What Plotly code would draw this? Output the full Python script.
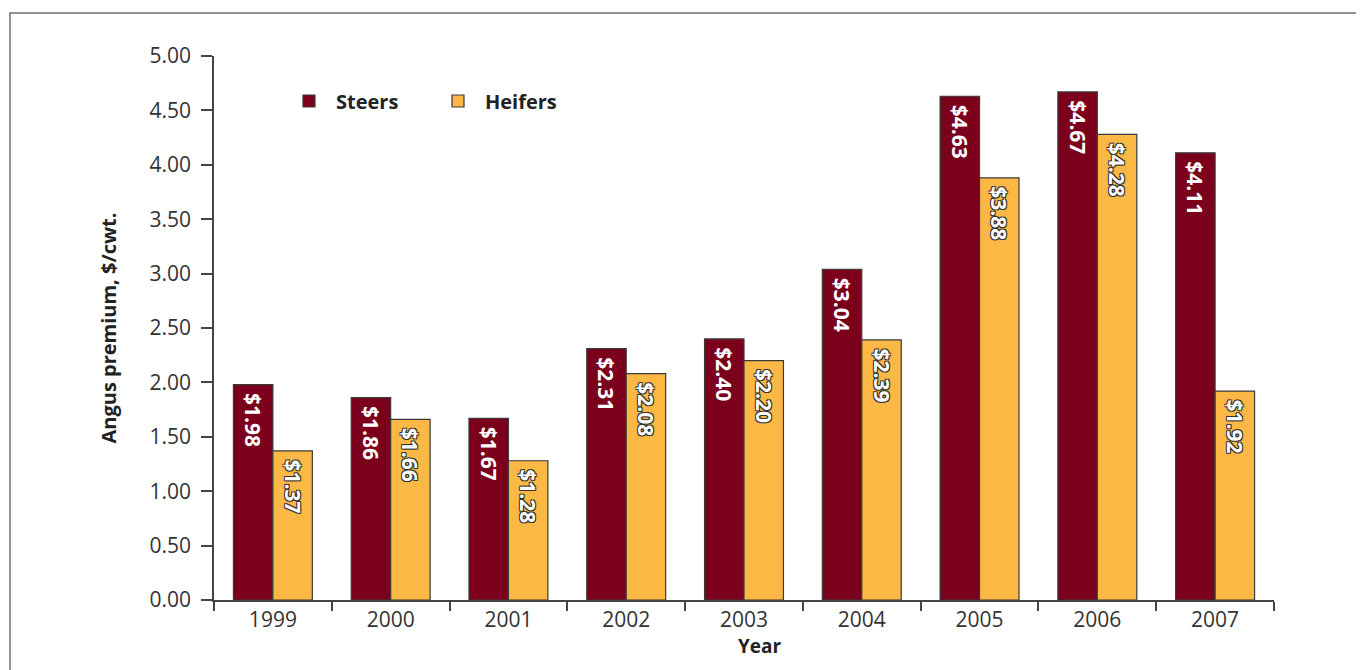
import plotly.graph_objects as go

years = ["1999", "2000", "2001", "2002", "2003", "2004", "2005", "2006", "2007"]
steers = [1.98, 1.86, 1.67, 2.31, 2.40, 3.04, 4.63, 4.67, 4.11]
heifers = [1.37, 1.66, 1.28, 2.08, 2.20, 2.39, 3.88, 4.28, 1.92]
y_ticks = [0, 0.5, 1, 1.5, 2, 2.5, 3, 3.5, 4, 4.5, 5]

STEER_C = "#7b001c"
HEIFER_C = "#fbb844"
EDGE = "#3a3a3a"
FONT = "Open Sans"

outline = "1px 1px 0 #333, -1px -1px 0 #333, 1px -1px 0 #333, -1px 1px 0 #333"

def lab(v):
    return "\u00a0$" + f"{v:.2f}"

fig = go.Figure()
fig.add_trace(go.Bar(
    name="Steers", x=years, y=steers,
    marker=dict(color=STEER_C, line=dict(color=EDGE, width=1.2)),
    text=[lab(v) for v in steers], textposition="inside",
    insidetextanchor="end", textangle=90, constraintext="none",
    insidetextfont=dict(family=FONT, size=21, color="white", weight="bold"),
    hoverinfo="skip",
))
fig.add_trace(go.Bar(
    name="Heifers", x=years, y=heifers,
    marker=dict(color=HEIFER_C, line=dict(color=EDGE, width=1.2)),
    text=[lab(v) for v in heifers], textposition="inside",
    insidetextanchor="end", textangle=90, constraintext="none",
    insidetextfont=dict(family=FONT, size=21, color="white", weight="bold", shadow=outline),
    hoverinfo="skip",
))

# page body margin offset (8px) compensation
OFF = 8
W, H = 1364, 670
L, T = 214 - OFF, 56 - OFF
pw, ph = 1060, 544
R = W - L - pw
B = H - T - ph

def px_x(p):
    return (p - OFF - L) / pw

def px_y(p):
    return (T + ph - (p - OFF)) / ph

fig.update_layout(
    width=W, height=H,
    margin=dict(l=L, r=R, t=T, b=B, autoexpand=False),
    paper_bgcolor="white", plot_bgcolor="white",
    barmode="group", bargap=0.33, bargroupgap=0,
    font=dict(family=FONT, size=20, color="#333"),
    showlegend=True,
    legend=dict(orientation="h", x=px_x(282), xanchor="left", y=px_y(101), yanchor="middle",
                font=dict(family=FONT, size=20, color="#222", weight="bold"),
                itemwidth=44,
                bgcolor="rgba(0,0,0,0)", entrywidth=90, entrywidthmode="pixels"),
    xaxis=dict(type="category", categoryarray=years, showgrid=False, zeroline=False,
               showline=True, linecolor="#444", linewidth=1.5,
               ticks="outside", tickson="boundaries", ticklen=9, tickwidth=1.5, tickcolor="#444",
               tickfont=dict(family=FONT, size=21, color="#333"), automargin=False),
    yaxis=dict(range=[0, 5], tickvals=y_ticks, ticktext=[f"{v:.2f}" for v in y_ticks],
               showgrid=False, zeroline=False, showline=True, linecolor="#444", linewidth=1.5,
               ticks="outside", ticklen=11, tickwidth=1.5, tickcolor="#444",
               ticklabelstandoff=6,
               tickfont=dict(family=FONT, size=21, color="#333"), automargin=False,
               title=dict(text="Angus premium, $/cwt.", standoff=28,
                          font=dict(family=FONT, size=20, color="#222", weight="bold"))),
    xaxis2=dict(overlaying="x", anchor="y", range=[-0.5, 8.5],
                tickvals=[i - 0.5 for i in range(len(years) + 1)],
                showticklabels=False, ticks="inside", ticklen=10, tickwidth=1.5, tickcolor="#444",
                showgrid=False, zeroline=False, showline=False),
    yaxis2=dict(overlaying="y", anchor="x", side="left", range=[0, 5], tickvals=y_ticks,
                showticklabels=False, ticks="inside", ticklen=10, tickwidth=1.5, tickcolor="#444",
                showgrid=False, zeroline=False, showline=False),
    annotations=[dict(text="<b>Year</b>", xref="paper", yref="paper",
                      x=px_x(760), y=px_y(646), xanchor="center", yanchor="middle",
                      showarrow=False, font=dict(family=FONT, size=19, color="#222"))],
    shapes=[dict(type="rect", xref="paper", yref="paper",
                 x0=px_x(10), x1=px_x(1420), y0=px_y(720), y1=px_y(13),
                 line=dict(color="#6f6f6f", width=1.5), fillcolor="rgba(0,0,0,0)", layer="below")],
)

fig.write_html("out.html")
